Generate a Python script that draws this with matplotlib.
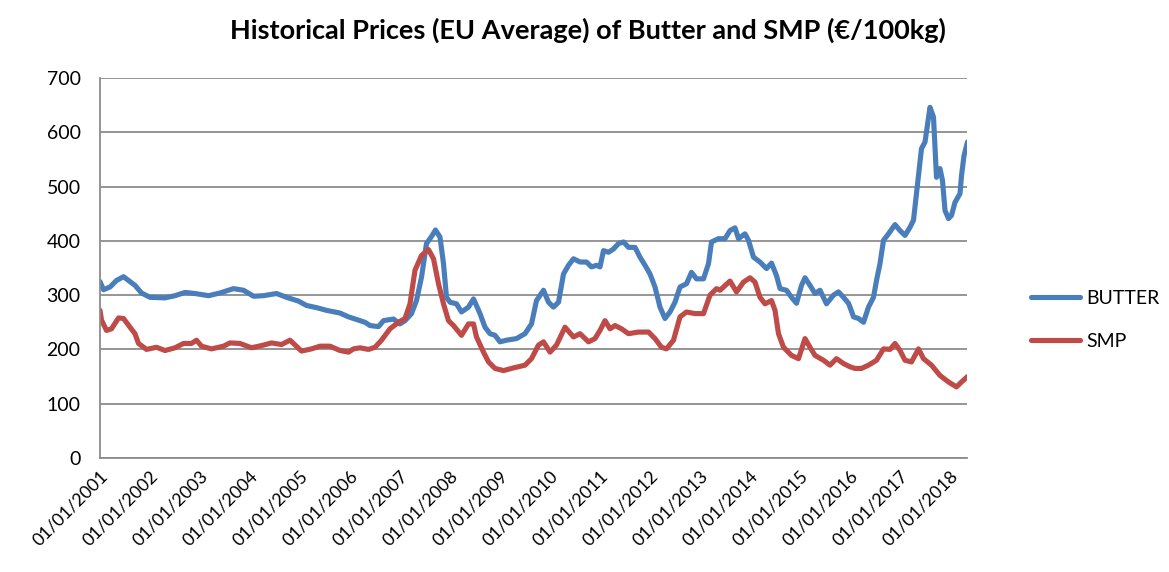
import matplotlib
matplotlib.use("Agg")
import matplotlib.pyplot as plt

# Decimal-year positions and values
butter_x = [2001.00, 2001.07, 2001.20, 2001.33, 2001.47, 2001.57, 2001.70, 2001.83, 2002.00, 2002.30,
            2002.50, 2002.70, 2002.90, 2003.17, 2003.40, 2003.67, 2003.87, 2004.07, 2004.27, 2004.53,
            2004.73, 2004.97, 2005.13, 2005.33, 2005.53, 2005.80, 2005.97, 2006.10, 2006.30, 2006.40,
            2006.57, 2006.67, 2006.87, 2007.00, 2007.10, 2007.23, 2007.33, 2007.43, 2007.53, 2007.63,
            2007.71, 2007.80, 2007.87, 2007.93, 2008.00, 2008.13, 2008.23, 2008.37, 2008.47, 2008.50,
            2008.60, 2008.70, 2008.80, 2008.90, 2009.00, 2009.13, 2009.33, 2009.50, 2009.63, 2009.73,
            2009.87, 2009.97, 2010.07, 2010.17, 2010.27, 2010.37, 2010.47, 2010.60, 2010.73, 2010.83,
            2010.93, 2011.00, 2011.07, 2011.17, 2011.27, 2011.37, 2011.47, 2011.57, 2011.70, 2011.80,
            2011.90, 2012.00, 2012.10, 2012.20, 2012.30, 2012.40, 2012.50, 2012.60, 2012.73, 2012.83,
            2012.93, 2013.07, 2013.17, 2013.23, 2013.37, 2013.50, 2013.60, 2013.70, 2013.77, 2013.90,
            2013.97, 2014.07, 2014.20, 2014.33, 2014.43, 2014.53, 2014.60, 2014.73, 2014.83, 2014.93,
            2015.03, 2015.10, 2015.20, 2015.30, 2015.40, 2015.53, 2015.67, 2015.77, 2015.87, 2015.97,
            2016.00, 2016.07, 2016.17, 2016.27, 2016.37, 2016.47, 2016.53, 2016.60, 2016.67, 2016.77,
            2016.90, 2017.00, 2017.10, 2017.20, 2017.27, 2017.33, 2017.43, 2017.50, 2017.60, 2017.67,
            2017.73, 2017.80, 2017.85, 2017.90, 2017.97, 2018.03, 2018.10, 2018.20, 2018.23, 2018.28,
            2018.35]
butter = [325, 310, 315, 327, 334, 327, 318, 304, 296, 295,
          299, 305, 303, 299, 304, 312, 309, 298, 299, 303,
          296, 289, 281, 277, 272, 267, 260, 256, 250, 244,
          242, 253, 256, 247, 253, 266, 290, 333, 395, 408,
          420, 407, 358, 296, 287, 284, 269, 278, 293, 287,
          266, 241, 229, 226, 214, 217, 220, 229, 247, 290,
          309, 287, 278, 287, 339, 355, 367, 361, 361, 352,
          355, 352, 382, 379, 385, 395, 398, 388, 388, 370,
          355, 339, 315, 278, 257, 269, 287, 315, 321, 342,
          330, 330, 358, 398, 404, 404, 419, 424, 404, 413,
          401, 370, 361, 349, 359, 336, 312, 309, 296, 285,
          318, 332, 318, 303, 309, 284, 300, 306, 296, 285,
          278, 260, 257, 250, 278, 296, 327, 358, 401, 413,
          430, 419, 410, 425, 438, 487, 570, 582, 646, 628,
          517, 533, 511, 456, 441, 447, 471, 487, 520, 557,
          582]

smp_x = [2001.00, 2001.03, 2001.13, 2001.23, 2001.37, 2001.47, 2001.60, 2001.70, 2001.77, 2001.93,
         2002.13, 2002.30, 2002.50, 2002.67, 2002.83, 2002.93, 2003.03, 2003.23, 2003.47, 2003.60,
         2003.80, 2004.03, 2004.27, 2004.43, 2004.63, 2004.80, 2005.03, 2005.23, 2005.40, 2005.60,
         2005.80, 2005.97, 2006.07, 2006.20, 2006.37, 2006.50, 2006.63, 2006.80, 2006.97, 2007.10,
         2007.20, 2007.30, 2007.43, 2007.57, 2007.67, 2007.77, 2007.87, 2007.97, 2008.07, 2008.23,
         2008.37, 2008.47, 2008.53, 2008.67, 2008.77, 2008.90, 2009.07, 2009.27, 2009.50, 2009.63,
         2009.77, 2009.87, 2010.00, 2010.13, 2010.30, 2010.47, 2010.60, 2010.77, 2010.90, 2011.00,
         2011.10, 2011.20, 2011.30, 2011.43, 2011.57, 2011.77, 2011.97, 2012.10, 2012.23, 2012.33,
         2012.47, 2012.60, 2012.73, 2012.90, 2013.07, 2013.20, 2013.33, 2013.40, 2013.60, 2013.73,
         2013.87, 2014.00, 2014.10, 2014.20, 2014.30, 2014.43, 2014.50, 2014.57, 2014.67, 2014.83,
         2014.97, 2015.10, 2015.20, 2015.30, 2015.47, 2015.60, 2015.73, 2015.87, 2016.00, 2016.10,
         2016.23, 2016.37, 2016.53, 2016.67, 2016.80, 2016.90, 2017.00, 2017.10, 2017.23, 2017.37,
         2017.47, 2017.63, 2017.80, 2017.97, 2018.13, 2018.23, 2018.35]
smp = [272, 254, 235, 238, 258, 257, 241, 229, 211, 200,
       204, 198, 203, 211, 211, 217, 206, 201, 206, 212,
       211, 203, 208, 212, 209, 217, 197, 201, 206, 206,
       198, 195, 201, 203, 200, 204, 217, 238, 250, 257,
       284, 346, 373, 384, 367, 321, 284, 253, 244, 226,
       247, 247, 223, 195, 177, 165, 161, 166, 171, 183,
       208, 214, 195, 208, 241, 223, 229, 214, 220, 235,
       253, 238, 244, 238, 229, 232, 232, 220, 204, 201,
       217, 260, 269, 266, 266, 300, 312, 309, 326, 306,
       324, 332, 324, 296, 284, 290, 272, 229, 204, 189,
       183, 220, 204, 189, 180, 171, 183, 174, 168, 165,
       165, 171, 180, 201, 200, 211, 198, 180, 177, 201,
       183, 171, 152, 140, 131, 140, 150]

years = list(range(2001, 2019))
year_labels = ["01/01/%d" % y for y in years]
series_names = ["BUTTER", "SMP"]

FONT = ["Lato", "DejaVu Sans"]
plt.rcParams["font.family"] = FONT

fig = plt.figure(figsize=(11.69, 5.72), dpi=100)
ax = fig.add_axes([100 / 1169, 1 - 458 / 572, 867 / 1169, 380 / 572])

ax.plot(butter_x, butter, color="#4A7EBB", lw=3.7, solid_joinstyle="round",
        solid_capstyle="round", label=series_names[0])
ax.plot(smp_x, smp, color="#BE4B48", lw=3.7, solid_joinstyle="round",
        solid_capstyle="round", label=series_names[1])

ax.set_ylim(0, 700)
ax.set_xlim(2001.0, 2018.34)
ax.set_yticks(range(0, 701, 100))
ax.set_xticks(years)
ax.set_xticklabels(year_labels, rotation=45, ha="right", va="top",
                   rotation_mode="anchor", fontsize=12.8)
ax.tick_params(axis="y", labelsize=14, length=0, pad=14)
ax.tick_params(axis="x", length=0, pad=7)
ax.grid(axis="y", color="#8C8C8C", lw=1.3)
ax.set_axisbelow(True)
for s in ["top", "right"]:
    ax.spines[s].set_visible(False)
for s in ["left", "bottom"]:
    ax.spines[s].set_color("#8C8C8C")
    ax.spines[s].set_linewidth(1.3)

fig.text(588 / 1169, 1 - 30 / 572, "Historical Prices (EU Average) of Butter and SMP (\u20ac/100kg)",
         ha="center", va="center", fontsize=19.5, fontweight="bold")

fig.legend(loc="center left", bbox_to_anchor=(1013 / 1169, 1 - 320 / 572), frameon=False,
           fontsize=14, handlelength=2.55, labelspacing=1.35, handletextpad=0.3)

fig.savefig("out.png", dpi=100)
